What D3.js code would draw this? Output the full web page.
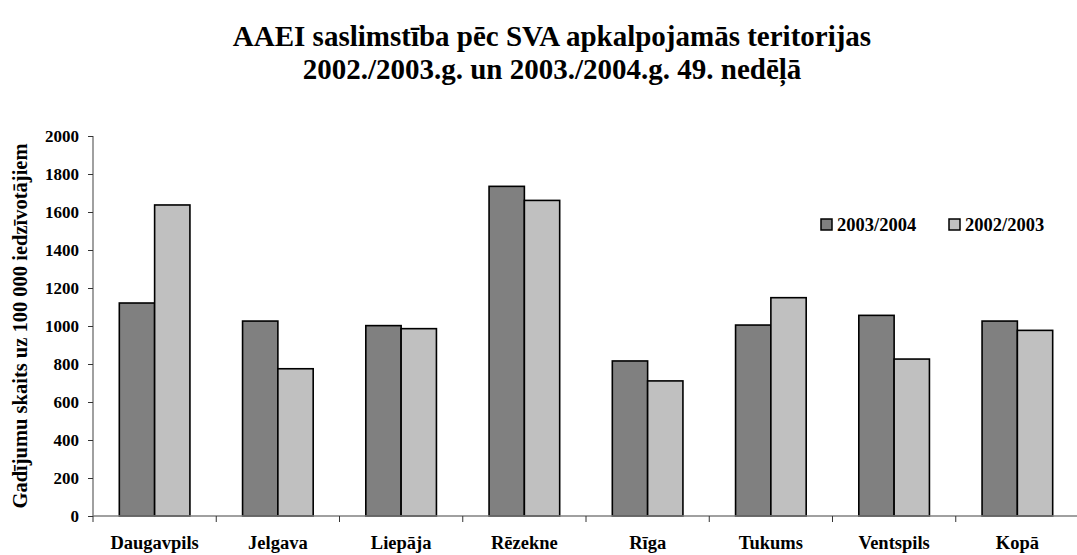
<!DOCTYPE html>
<html>
<head>
<meta charset="utf-8">
<script src="https://cdn.jsdelivr.net/npm/d3@7"></script>
<style>
  body { margin: 0; background: #fff; }
  text { font-family: "Liberation Serif", "Times New Roman", serif; font-weight: bold; fill: #000; }
</style>
</head>
<body>
<div class="chart"></div>
<script>
// chart data
var categories = ["Daugavpils", "Jelgava", "Liepāja", "Rēzekne", "Rīga", "Tukums", "Ventspils", "Kopā"];
var seriesNames = ["2003/2004", "2002/2003"];
var values0304 = [1121, 1026, 1002, 1735, 816, 1005, 1056, 1026];
var values0203 = [1637, 775, 986, 1661, 711, 1149, 826, 977];
var yTicks = [0, 200, 400, 600, 800, 1000, 1200, 1400, 1600, 1800, 2000];
var titleLines = ["AAEI saslimstība pēc SVA apkalpojamās teritorijas", "2002./2003.g. un 2003./2004.g. 49. nedēļā"];
var yTitle = "Gadījumu skaits uz 100 000 iedzīvotājiem";

var colors = ["#808080", "#c0c0c0"];

var svgWidth = 1077;
var svgHeight = 555;
var margin = { top: 136, left: 93, bottom: 39 };
var plotRight = 1079;
var plotBottom = svgHeight - margin.bottom;

var svg = d3.select(".chart")
    .append("svg")
    .attr("width", svgWidth)
    .attr("height", svgHeight);

// table built from the arrays
var dataset = categories.map(function (c, i) {
    return { cat: c, vals: [values0304[i], values0203[i]] };
});

// scales
var x0 = d3.scaleBand().domain(categories).range([margin.left, plotRight]);
var bw = x0.bandwidth();
var gw = bw * 0.573;
var x1 = d3.scaleBand().domain([0, 1]).range([(bw - gw) / 2, (bw + gw) / 2]);
var yScale = d3.scaleLinear().domain([0, 2000]).range([plotBottom, margin.top]);

// title
svg.selectAll(".title")
    .data(titleLines)
    .enter()
    .append("text")
    .attr("class", "title")
    .attr("x", 552)
    .attr("y", function (d, i) { return 46 + i * 33; })
    .attr("text-anchor", "middle")
    .style("font-size", "29px")
    .text(function (d) { return d; });

// y axis
var yAxis = d3.axisLeft(yScale).tickValues(yTicks).tickSize(5).tickPadding(9).tickFormat(d3.format("d"));
var gy = svg.append("g")
    .attr("transform", `translate(${margin.left},0)`)
    .call(yAxis);
gy.select(".domain").attr("stroke", "#808080").attr("stroke-width", 1.5).attr("d", `M0,${margin.top}V${plotBottom}`);
gy.selectAll(".tick line").attr("stroke", "#333");
gy.selectAll(".tick text")
    .style("font-size", "17px")
    .attr("dy", "0.35em");

// y axis title
svg.append("text")
    .attr("transform", `translate(27,${(margin.top + plotBottom) / 2})rotate(-90)`)
    .attr("text-anchor", "middle")
    .style("font-size", "20.5px")
    .text(yTitle);

// bars
var groups = svg.selectAll(".group")
    .data(dataset)
    .enter()
    .append("g")
    .attr("class", "group")
    .attr("transform", function (d) { return `translate(${x0(d.cat)},0)`; });

groups.selectAll("rect")
    .data(function (d) { return d.vals; })
    .enter()
    .append("rect")
    .attr("x", function (d, i) { return x1(i); })
    .attr("width", x1.bandwidth())
    .attr("y", function (d) { return yScale(d); })
    .attr("height", function (d) { return plotBottom - yScale(d); })
    .attr("fill", function (d, i) { return colors[i]; })
    .attr("stroke", "#000")
    .attr("stroke-width", 1.6);

// x axis line and ticks at category boundaries
svg.append("line")
    .attr("x1", margin.left).attr("x2", plotRight)
    .attr("y1", plotBottom).attr("y2", plotBottom)
    .attr("stroke", "#808080").attr("stroke-width", 1.5);

svg.selectAll(".xtick")
    .data(categories)
    .enter()
    .append("line")
    .attr("class", "xtick")
    .attr("x1", function (d) { return x0(d); })
    .attr("x2", function (d) { return x0(d); })
    .attr("y1", plotBottom)
    .attr("y2", plotBottom + 6)
    .attr("stroke", "#333");

svg.selectAll(".xlabel")
    .data(categories)
    .enter()
    .append("text")
    .attr("class", "xlabel")
    .attr("x", function (d) { return x0(d) + bw / 2; })
    .attr("y", 549)
    .attr("text-anchor", "middle")
    .style("font-size", "18.5px")
    .text(function (d) { return d; });

// legend
var legendX = [821, 949];
var legend = svg.selectAll(".legend")
    .data(seriesNames)
    .enter()
    .append("g")
    .attr("class", "legend")
    .attr("transform", function (d, i) { return `translate(${legendX[i]},219)`; });

legend.append("rect")
    .attr("width", 11)
    .attr("height", 11)
    .attr("fill", function (d, i) { return colors[i]; })
    .attr("stroke", "#000")
    .attr("stroke-width", 1.5);

legend.append("text")
    .attr("x", 16)
    .attr("y", 11.5)
    .style("font-size", "18.5px")
    .text(function (d) { return d; });
</script>
</body>
</html>
